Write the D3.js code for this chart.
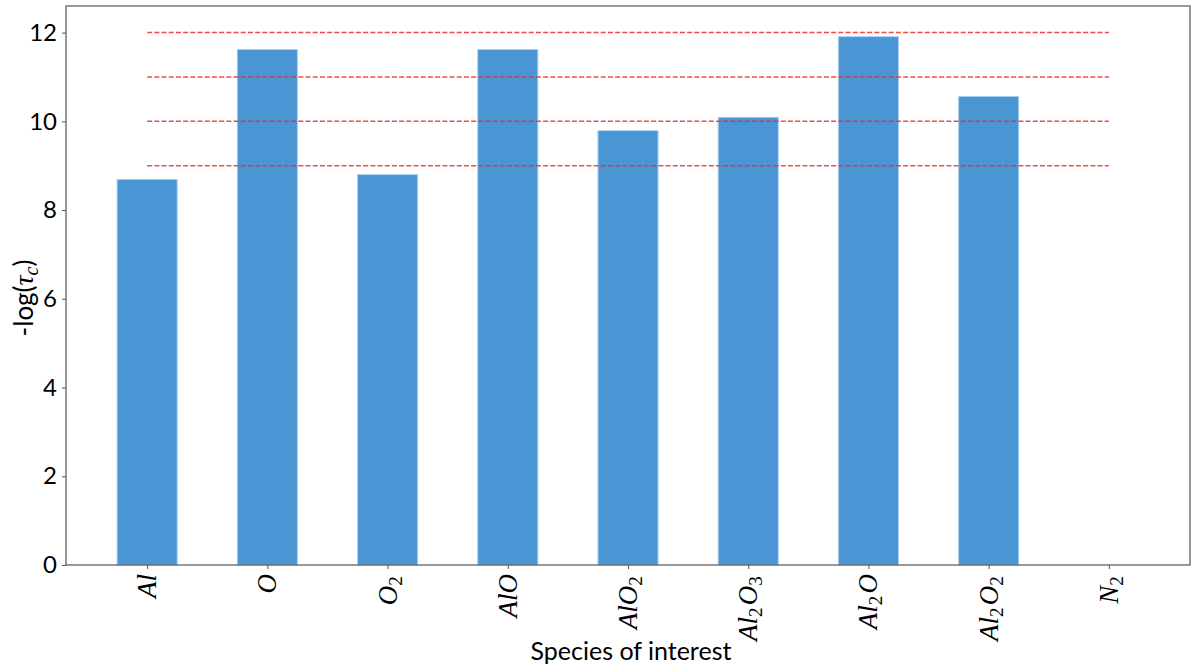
<!DOCTYPE html>
<html>
<head>
<meta charset="utf-8">
<script src="https://cdn.jsdelivr.net/npm/d3@7"></script>
<style>
  html, body { margin: 0; padding: 0; background: #fff; }
  svg { display: block; }
</style>
</head>
<body>
<svg id="chart" width="1192" height="667"></svg>
<script>
// Species along the x axis (underscore marks a subscript digit)
const species = ["Al", "O", "O_2", "AlO", "AlO_2", "Al_2O_3", "Al_2O", "Al_2O_2", "N_2"];
// -log(tau_c) for each species
const values = [8.69, 11.62, 8.80, 11.62, 9.79, 10.09, 11.91, 10.56, 0];
// Reference threshold levels drawn as dashed lines
const thresholds = [9, 10, 11, 12];
// Y axis tick values
const yTicks = [0, 2, 4, 6, 8, 10, 12];

const margin = { left: 66, right: 2, top: 6, bottom: 102 };
const W = 1192, H = 667;
const svg = d3.select("#chart");

const x = d3.scaleLinear()
  .domain([-0.675, species.length - 1 + 0.675])
  .range([margin.left, W - margin.right]);
const y = d3.scaleLinear()
  .domain([0, 12.6])
  .range([H - margin.bottom, margin.top]);

const barW = x(0.5) - x(0);

// Bars
svg.append("g").selectAll("rect")
  .data(values)
  .join("rect")
  .attr("x", (d, i) => x(i) - barW / 2)
  .attr("width", barW)
  .attr("y", d => y(d))
  .attr("height", d => y(0) - y(d))
  .attr("fill", "#4a96d5")
  .attr("stroke", "#a9d0f0")
  .attr("stroke-width", d => d > 0 ? 1 : 0);

// Threshold dashed lines from first to last category
svg.append("g").selectAll("line")
  .data(thresholds)
  .join("line")
  .attr("x1", x(0))
  .attr("x2", x(species.length - 1))
  .attr("y1", d => y(d))
  .attr("y2", d => y(d))
  .attr("stroke", "#f22a2a")
  .attr("stroke-opacity", 0.85)
  .attr("stroke-width", 1.5)
  .attr("stroke-dasharray", "5,2.2");

// Frame
svg.append("rect")
  .attr("x", margin.left)
  .attr("y", margin.top)
  .attr("width", W - margin.right - margin.left)
  .attr("height", H - margin.bottom - margin.top)
  .attr("fill", "none")
  .attr("stroke", "#555")
  .attr("stroke-width", 1.2);

// Y axis
const yAxis = svg.append("g")
  .attr("transform", `translate(${margin.left},0)`)
  .call(d3.axisLeft(y).tickValues(yTicks).tickSize(4).tickPadding(5).tickFormat(d3.format("d")));
yAxis.select(".domain").remove();
yAxis.selectAll(".tick line").attr("stroke", "#555");
yAxis.selectAll(".tick text")
  .attr("fill", "#000")
  .style("font-family", "Lato, 'Open Sans', sans-serif")
  .style("font-size", "24px");

// X axis ticks
const xAxis = svg.append("g")
  .attr("transform", `translate(0,${y(0)})`)
  .call(d3.axisBottom(x).tickValues(d3.range(species.length)).tickSize(4).tickFormat(""));
xAxis.select(".domain").remove();
xAxis.selectAll(".tick line").attr("stroke", "#555");

// Rotated species labels with subscripts
const labelG = svg.append("g");
species.forEach((s, i) => {
  const t = labelG.append("text")
    .attr("transform", `translate(${x(i) + 9},${y(0) + 9}) rotate(-90)`)
    .attr("text-anchor", "end")
    .style("font-family", "'Liberation Serif', 'DejaVu Serif', serif")
    .style("font-size", "27px")
    .attr("fill", "#000");
  const parts = s.split(/(_\d)/).filter(p => p.length);
  parts.forEach(p => {
    if (p.startsWith("_")) {
      t.append("tspan")
        .attr("dy", 5)
        .style("font-size", "19px")
        .style("font-style", "normal")
        .text(p.slice(1));
      t.append("tspan").attr("dy", -5).text("\u200A");
    } else {
      t.append("tspan").style("font-style", "italic").text(p);
    }
  });
});

// X axis title
svg.append("text")
  .attr("x", (margin.left + W - margin.right) / 2 + 3)
  .attr("y", 660)
  .attr("text-anchor", "middle")
  .style("font-family", "Lato, 'Open Sans', sans-serif")
  .style("font-size", "25px")
  .attr("fill", "#000")
  .text("Species of interest");

// Y axis title: -log(τ_c)
const yt = svg.append("text")
  .attr("transform", `translate(33,298) rotate(-90)`)
  .attr("text-anchor", "middle")
  .style("font-family", "Lato, 'Open Sans', sans-serif")
  .style("font-size", "26px")
  .attr("fill", "#000");
yt.append("tspan").text("-log(");
yt.append("tspan").style("font-family", "'Liberation Serif', serif").style("font-style", "italic").style("font-size", "28px").text("\u03C4");
yt.append("tspan").attr("dy", 5).style("font-family", "'Liberation Serif', serif").style("font-style", "italic").style("font-size", "20px").text("c");
yt.append("tspan").attr("dy", -5).text(")");
</script>
</body>
</html>
